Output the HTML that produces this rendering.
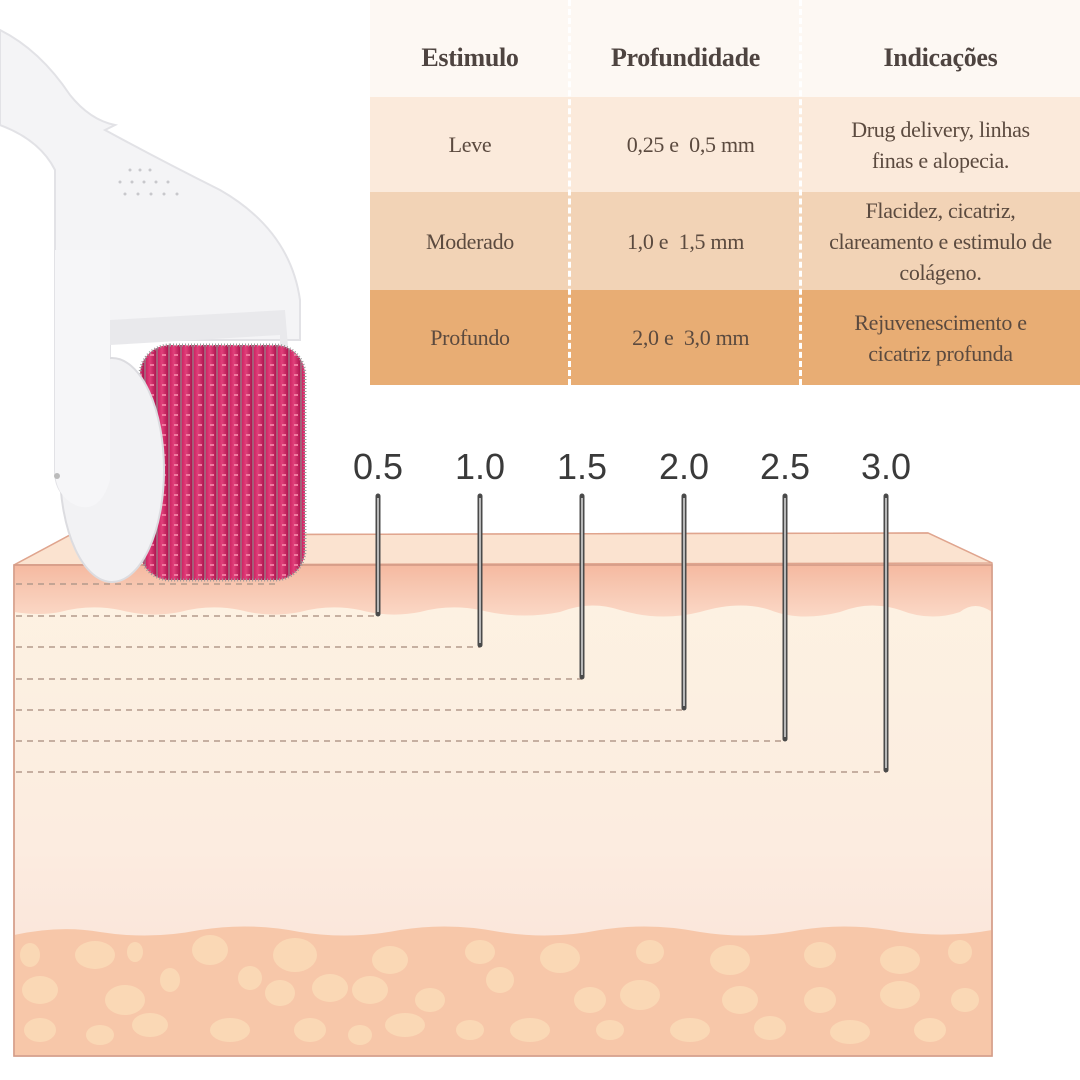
<!DOCTYPE html>
<html><head><meta charset="utf-8"><style>
body{margin:0;width:1080px;height:1080px;overflow:hidden;background:#fff;position:relative;font-family:"Liberation Serif",serif}
.t{position:absolute;left:370px;top:0;width:710px;height:385px}
.r{position:absolute;left:0;width:710px;}
.c{position:absolute;display:flex;align-items:center;justify-content:center;text-align:center;color:#5b4a3f;font-size:22px;line-height:31px;height:100%;letter-spacing:-0.3px}
.h .c{font-weight:bold;font-size:26px;color:#4e4440;padding-top:18px;box-sizing:border-box}
.dv{position:absolute;top:0;height:385px;width:0;border-left:3px dashed #fff}
.lab{position:absolute;font-family:"Liberation Sans",sans-serif;font-size:36px;color:#3a3a3a;top:446px;width:80px;text-align:center}
</style></head><body>
<svg width="1080" height="1080" style="position:absolute;left:0;top:0">
<defs>
<linearGradient id="derm" x1="0" y1="0" x2="0" y2="1">
<stop offset="0" stop-color="#fdf3e2"/><stop offset="0.6" stop-color="#fcece0"/><stop offset="1" stop-color="#f9dfd4"/></linearGradient>
<linearGradient id="epi" x1="0" y1="0" x2="0" y2="1">
<stop offset="0" stop-color="#f5b9a0"/><stop offset="0.4" stop-color="#f7c6b0"/><stop offset="1" stop-color="#fbd8c6"/></linearGradient>
<linearGradient id="pink" x1="0" y1="0" x2="1" y2="0">
<stop offset="0" stop-color="#c8175a"/><stop offset="0.5" stop-color="#e0407a"/><stop offset="1" stop-color="#b01550"/></linearGradient>
<pattern id="nd" width="12" height="10" patternUnits="userSpaceOnUse"><rect width="12" height="10" fill="url(#pink)"/><rect x="0" y="0" width="2" height="10" fill="#8a8a8a" opacity="0.6"/><rect x="6" y="4" width="4" height="2" fill="#f07aa0"/></pattern>
</defs>
<polygon points="14,565 70,535 928,533 992,563 992,1056 14,1056" fill="url(#derm)" stroke="#d9a592" stroke-width="1.5"/>
<polygon points="14,565 70,535 928,533 992,563" fill="#fbe3d0" stroke="#e0a58e" stroke-width="1.5"/>
<path d="M14,565 H992 V612 Q975,600 960,612 Q930,622 900,610 Q870,600 840,612 Q800,622 770,610 Q740,600 700,612 Q660,622 620,610 Q590,600 560,612 Q520,620 480,610 Q450,604 420,612 Q390,618 360,610 Q330,604 300,612 Q270,618 240,610 Q210,604 180,612 Q150,618 120,610 Q90,604 60,612 Q40,616 14,612 Z" fill="url(#epi)"/>
<line x1="14" y1="565" x2="992" y2="565" stroke="#e0a08a" stroke-width="1.5"/>
<path d="M14,935 Q60,925 100,932 Q150,940 200,930 Q250,922 300,932 Q350,940 400,930 Q450,922 500,932 Q550,940 600,930 Q650,922 700,932 Q750,940 800,930 Q850,922 900,932 Q950,938 992,930 V1055 H14 Z" fill="#f7c7a9"/>
<g fill="#fbdcb8" opacity="0.85">
<ellipse cx="30" cy="955" rx="10" ry="12"/><ellipse cx="95" cy="955" rx="20" ry="14"/><ellipse cx="135" cy="952" rx="8" ry="10"/><ellipse cx="210" cy="950" rx="18" ry="15"/><ellipse cx="295" cy="955" rx="22" ry="17"/><ellipse cx="390" cy="960" rx="18" ry="14"/><ellipse cx="480" cy="952" rx="15" ry="12"/><ellipse cx="560" cy="958" rx="20" ry="15"/><ellipse cx="650" cy="952" rx="14" ry="12"/><ellipse cx="730" cy="960" rx="20" ry="15"/><ellipse cx="820" cy="955" rx="16" ry="13"/><ellipse cx="900" cy="960" rx="20" ry="14"/><ellipse cx="960" cy="952" rx="12" ry="12"/>
<ellipse cx="40" cy="990" rx="18" ry="14"/><ellipse cx="125" cy="1000" rx="20" ry="15"/><ellipse cx="170" cy="980" rx="10" ry="12"/><ellipse cx="250" cy="978" rx="12" ry="12"/><ellipse cx="280" cy="993" rx="15" ry="13"/><ellipse cx="330" cy="988" rx="18" ry="14"/><ellipse cx="370" cy="990" rx="18" ry="14"/><ellipse cx="430" cy="1000" rx="15" ry="12"/><ellipse cx="500" cy="980" rx="14" ry="13"/><ellipse cx="590" cy="1000" rx="16" ry="13"/><ellipse cx="640" cy="995" rx="20" ry="15"/><ellipse cx="740" cy="1000" rx="18" ry="14"/><ellipse cx="820" cy="1000" rx="16" ry="13"/><ellipse cx="900" cy="995" rx="20" ry="14"/><ellipse cx="965" cy="1000" rx="14" ry="12"/>
<ellipse cx="40" cy="1030" rx="16" ry="12"/><ellipse cx="100" cy="1035" rx="14" ry="10"/><ellipse cx="150" cy="1025" rx="18" ry="12"/><ellipse cx="230" cy="1030" rx="20" ry="12"/><ellipse cx="310" cy="1030" rx="16" ry="12"/><ellipse cx="360" cy="1035" rx="12" ry="10"/><ellipse cx="405" cy="1025" rx="20" ry="12"/><ellipse cx="470" cy="1030" rx="14" ry="10"/><ellipse cx="530" cy="1030" rx="20" ry="12"/><ellipse cx="610" cy="1030" rx="14" ry="10"/><ellipse cx="690" cy="1030" rx="20" ry="12"/><ellipse cx="770" cy="1028" rx="16" ry="12"/><ellipse cx="850" cy="1032" rx="20" ry="12"/><ellipse cx="930" cy="1030" rx="16" ry="12"/>
</g>
<rect x="14" y="565" width="978" height="491" fill="none" stroke="#d49c88" stroke-width="1.5"/>
<g stroke="#b39a8c" stroke-width="1.5" stroke-dasharray="6,5">
<line x1="16" y1="584" x2="275" y2="584"/>
<line x1="16" y1="616" x2="378" y2="616"/>
<line x1="16" y1="647" x2="480" y2="647"/>
<line x1="16" y1="679" x2="582" y2="679"/>
<line x1="16" y1="710" x2="684" y2="710"/>
<line x1="16" y1="741" x2="785" y2="741"/>
<line x1="16" y1="772" x2="886" y2="772"/>
</g>
<g stroke="#4a4a4a" stroke-width="5" stroke-linecap="round">
<line x1="378" y1="496" x2="378" y2="614"/><line x1="480" y1="496" x2="480" y2="645"/><line x1="582" y1="496" x2="582" y2="677"/><line x1="684" y1="496" x2="684" y2="708"/><line x1="785" y1="496" x2="785" y2="739"/><line x1="886" y1="496" x2="886" y2="770"/>
</g>
<g stroke="#ddd" stroke-width="1.5">
<line x1="378" y1="498" x2="378" y2="612"/><line x1="480" y1="498" x2="480" y2="643"/><line x1="582" y1="498" x2="582" y2="675"/><line x1="684" y1="498" x2="684" y2="706"/><line x1="785" y1="498" x2="785" y2="737"/><line x1="886" y1="498" x2="886" y2="768"/>
</g>
<!-- roller -->
<path d="M0,30 Q40,50 70,95 Q90,120 115,125 L105,130 Q160,160 220,190 Q290,230 300,300 L300,340 L110,340 L110,480 Q105,510 85,505 Q55,500 55,470 L55,170 Q40,140 0,125 Z" fill="#f4f4f6" stroke="#e2e2e6" stroke-width="2"/>
<path d="M110,320 L285,310 L295,430 L280,430 L280,335 L110,345 Z" fill="#e9e9ec"/>
<rect x="140" y="345" width="165" height="235" rx="30" fill="url(#nd)"/>
<rect x="140" y="345" width="165" height="235" rx="30" fill="none" stroke="#9a9a9a" stroke-width="3" stroke-dasharray="1,2"/>
<ellipse cx="112" cy="470" rx="52" ry="112" fill="#f2f2f4" stroke="#dcdce0" stroke-width="2"/>
<path d="M55,250 L110,250 L110,480 Q100,515 75,505 Q55,495 55,470 Z" fill="#f6f6f8"/>
<circle cx="57" cy="476" r="3" fill="#bbb"/>
<g fill="#c8c8cc"><circle cx="130" cy="170" r="1.5"/><circle cx="140" cy="170" r="1.5"/><circle cx="150" cy="170" r="1.5"/><circle cx="120" cy="182" r="1.5"/><circle cx="132" cy="182" r="1.5"/><circle cx="144" cy="182" r="1.5"/><circle cx="156" cy="182" r="1.5"/><circle cx="168" cy="182" r="1.5"/><circle cx="125" cy="194" r="1.5"/><circle cx="138" cy="194" r="1.5"/><circle cx="151" cy="194" r="1.5"/><circle cx="164" cy="194" r="1.5"/><circle cx="177" cy="194" r="1.5"/></g>
</svg>
<div class="lab" style="left:338px">0.5</div>
<div class="lab" style="left:440px">1.0</div>
<div class="lab" style="left:542px">1.5</div>
<div class="lab" style="left:644px">2.0</div>
<div class="lab" style="left:745px">2.5</div>
<div class="lab" style="left:846px">3.0</div>
<div class="t">
<div class="r h" style="top:0;height:97px;background:#fdf8f3">
<div class="c" style="left:0;width:200px">Estimulo</div><div class="c" style="left:200px;width:231px">Profundidade</div><div class="c" style="left:431px;width:279px">Indicações</div></div>
<div class="r" style="top:97px;height:95px;background:#fbeadb">
<div class="c" style="left:0;width:200px">Leve</div><div class="c" style="left:200px;width:231px">&nbsp;&nbsp;0,25 e&nbsp; 0,5 mm</div><div class="c" style="left:431px;width:279px">Drug delivery, linhas<br>finas e alopecia.</div></div>
<div class="r" style="top:192px;height:98px;background:#f2d3b6">
<div class="c" style="left:0;width:200px">Moderado</div><div class="c" style="left:200px;width:231px">1,0 e&nbsp; 1,5 mm</div><div class="c" style="left:431px;width:279px">Flacidez, cicatriz,<br>clareamento e estimulo de<br>colágeno.</div></div>
<div class="r" style="top:290px;height:95px;background:#e8ad74">
<div class="c" style="left:0;width:200px">Profundo</div><div class="c" style="left:200px;width:231px">&nbsp;&nbsp;2,0 e&nbsp; 3,0 mm</div><div class="c" style="left:431px;width:279px">Rejuvenescimento e<br>cicatriz profunda</div></div>
<div class="dv" style="left:198px"></div><div class="dv" style="left:429px"></div>
</div>
</body></html>
